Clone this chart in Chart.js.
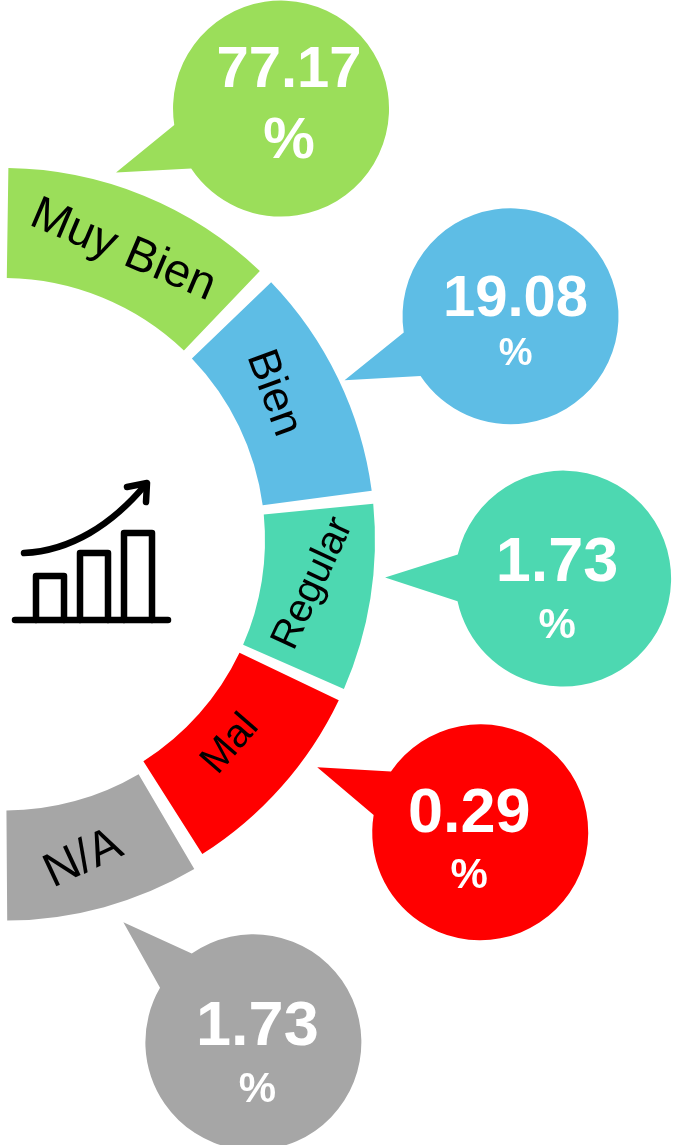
<!DOCTYPE html>
<html>
<head>
<meta charset="utf-8">
<style>
	html, body { margin: 0; padding: 0; background: #fff; overflow: hidden; width: 677px; height: 1145px; }
	#wrap { position: absolute; left: -674px; top: 0; width: 1354px; height: 1145px; }
	#icon { position: absolute; left: 10px; top: 475px; }
</style>
</head>
<body>
<div id="wrap"><canvas id="ring"></canvas></div>
<svg id="icon" width="170" height="155" viewBox="10 475 170 155" fill="none" stroke="#000" stroke-width="6.5" stroke-linecap="round" stroke-linejoin="round">
	<path d="M15 620H168"/>
	<path d="M36 620V576H64V620"/>
	<path d="M80 620V553H108V620"/>
	<path d="M124 620V533H152V620"/>
	<path d="M24 553C70 551 112 525 146 484"/>
	<path d="M127 487L147 483L146 502"/>
</svg>
<script src="https://cdn.jsdelivr.net/npm/chart.js@4/dist/chart.umd.min.js"></script>
<script>
var categories = ["Muy Bien", "Bien", "Regular", "Mal", "N/A"];
var percentages = ["77.17", "19.08", "1.73", "0.29", "1.73"];
// the ring is not to scale, these are the drawn slice widths in degrees
var sliceDegrees = [45.5, 38.5, 31, 34.1, 32];
var fillerDegrees = [178.9];
var colours = ["#9bde5a", "#5ebde5", "#4dd8b1", "#ff0000", "#a6a6a6"];

// label style
var labelSize = [47, 44, 40, 40, 48];
var labelTurn = [23, 70, -65, -49, -25];
var labelShift = [[0, 4], [-15, -9], [-3, -6], [-10, -6], [-7, 2]];

// callout style, all relative to the slice centre
var bubbleShift = [[158, -138], [222, -86], [247, -11], [240, 82], [163, 185]];
var tailTip = [[-165, 64], [-166, 64], [-178, -1], [-163, -65], [-130, -120]];
var textShift = [8, 5, -6, -11, 4];
var valueSize = [58, 58, 63, 63, 63];
var valueDrop = [-22, 0, 2, 0, 3];
var percentDrop = [49, 49, 59, 56, 60];
var percentSize = [58, 38, 42, 42, 42];
var bubbleRadius = 108;
var tailSpread = 12.5 * Math.PI / 180;

var canvas = document.getElementById("ring");
canvas.width = 1354;
canvas.height = 1145;

var callouts = {
	id: "callouts",
	afterDatasetsDraw: function(chart) {
		var ctx = chart.ctx;
		var arcs = chart.getDatasetMeta(0).data;

		for (var i = 0; i < categories.length; i++) {
			var c = arcs[i].getCenterPoint();

			// bubble with its tail
			var cx = c.x + bubbleShift[i][0];
			var cy = c.y + bubbleShift[i][1];
			var tipAngle = Math.atan2(tailTip[i][1], tailTip[i][0]);
			ctx.save();
			ctx.fillStyle = colours[i];
			ctx.beginPath();
			ctx.arc(cx, cy, bubbleRadius, tipAngle + tailSpread, tipAngle - tailSpread + Math.PI * 2);
			ctx.lineTo(cx + tailTip[i][0], cy + tailTip[i][1]);
			ctx.closePath();
			ctx.fill();

			// numbers
			ctx.fillStyle = "#fff";
			ctx.textAlign = "center";
			ctx.textBaseline = "alphabetic";
			ctx.font = "bold " + valueSize[i] + "px 'Liberation Sans'";
			ctx.fillText(percentages[i], cx + textShift[i], cy + valueDrop[i]);
			ctx.font = "bold " + percentSize[i] + "px 'Liberation Sans'";
			ctx.fillText("%", cx + textShift[i], cy + percentDrop[i]);
			ctx.restore();

			// slice name
			ctx.save();
			ctx.translate(c.x + labelShift[i][0], c.y + labelShift[i][1]);
			ctx.rotate(labelTurn[i] * Math.PI / 180);
			ctx.fillStyle = "#000";
			ctx.textAlign = "center";
			ctx.textBaseline = "middle";
			ctx.font = labelSize[i] + "px 'Liberation Sans'";
			ctx.fillText(categories[i], 0, 0);
			ctx.restore();
		}
	}
};

var chart = new Chart(canvas, {
	type: "doughnut",
	data: {
		labels: categories.concat([""]),
		datasets: [{
			data: sliceDegrees.concat(fillerDegrees),
			backgroundColor: colours.concat(["rgba(0,0,0,0)"]),
			borderWidth: 0,
			spacing: 36,
			offset: [0, 0, 0, 0, 24, 0]
		}]
	},
	options: {
		responsive: false,
		animation: false,
		radius: 354,
		cutout: "68.93%",
		rotation: -0.5,
		layout: { padding: { bottom: 65 } },
		plugins: {
			legend: { display: false },
			tooltip: { enabled: false }
		}
	},
	plugins: [callouts]
});
</script>
</body>
</html>
